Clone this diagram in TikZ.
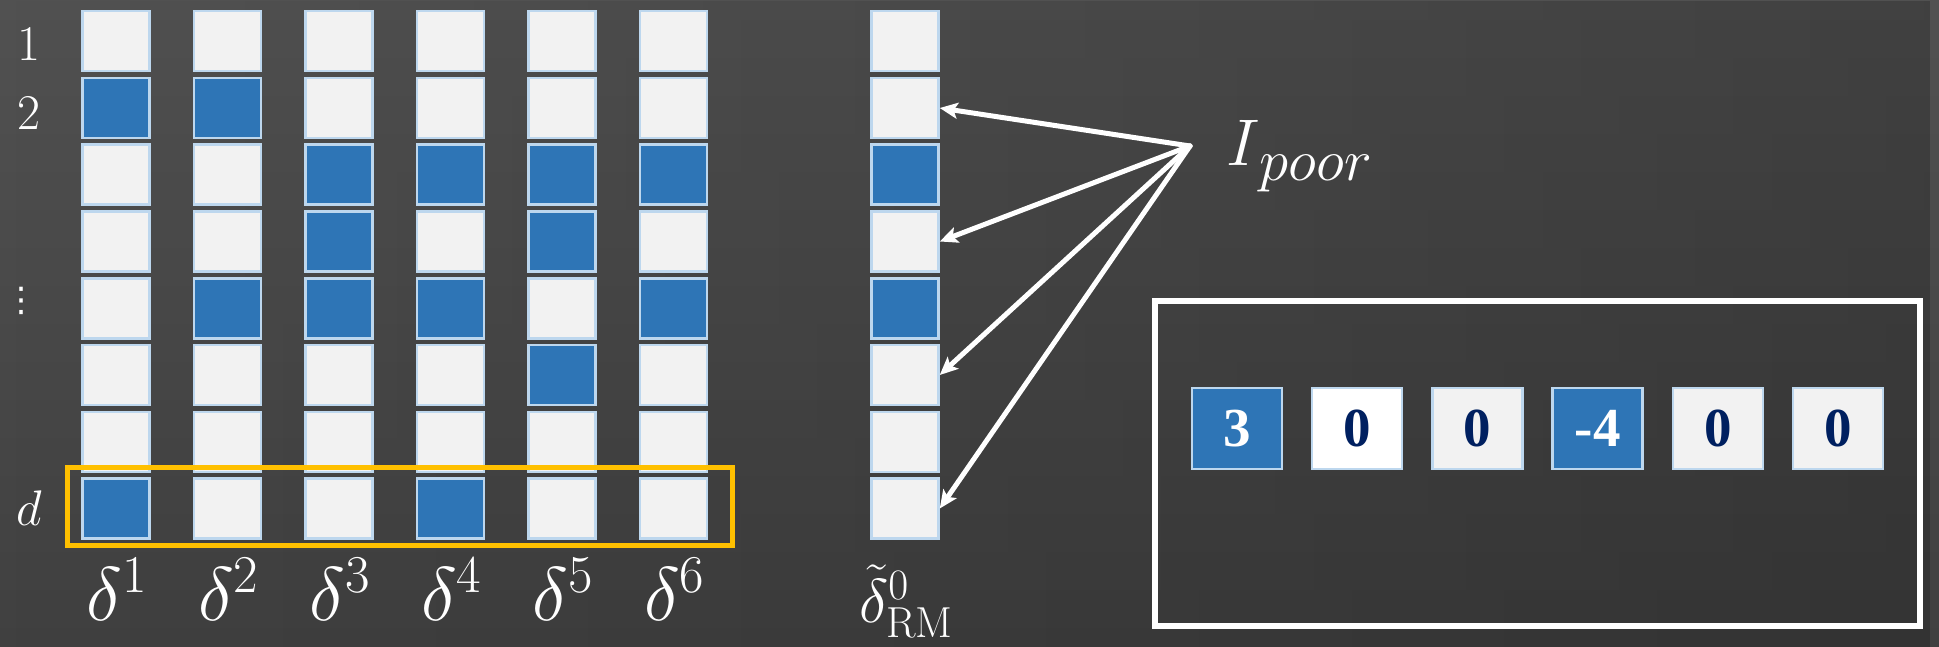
\RequirePackage{fix-cm}
\documentclass[tikz,border=0pt]{standalone}
\usepackage{fontspec}
\newfontfamily\valfont{Liberation Serif}
\newfontfamily\symfont{DejaVu Sans}
\usetikzlibrary{arrows.meta,fadings}

\definecolor{boardtop}{HTML}{515151}
\definecolor{boardbot}{HTML}{404040}
\definecolor{cellblue}{HTML}{2E75B6}
\definecolor{celllight}{HTML}{F2F2F2}
\definecolor{celledge}{HTML}{BDD7EE}
\definecolor{hlorange}{HTML}{FFC000}
\definecolor{navy}{HTML}{002060}

\tikzset{
  cellbase/.style={rectangle, inner sep=0pt, draw=celledge, line width=2.5pt,
                   minimum width=67pt, minimum height=60pt},
  cellw/.style={cellbase, fill=celllight},
  cellb/.style={cellbase, fill=cellblue},
  valbase/.style={rectangle, inner sep=0pt, draw=celledge, line width=2.5pt,
                  minimum width=90pt, minimum height=81pt,
                  font=\valfont\bfseries\fontsize{55}{60}\selectfont},
  valneg/.style={valbase, fill=cellblue, text=white},
  valzero/.style={valbase, fill=celllight, text=navy},
  valwhite/.style={valbase, fill=white, text=navy},
  rowlab/.style={text=white, inner sep=0pt, anchor=base, font=\fontsize{50}{56}\selectfont},
  veclab/.style={text=white, inner sep=0pt, anchor=base, font=\fontsize{76}{84}\selectfont},
  ptr/.style={draw=white, line width=5pt, line cap=round,
              -{Stealth[length=18pt,width=16pt,inset=4pt]}},
}

\begin{document}
\begin{tikzpicture}[x=1pt, y=-1pt]
  % chalkboard background
  \useasboundingbox (0,0) rectangle (1939,647);
  \shade[top color=boardtop, bottom color=boardbot] (0,0) rectangle (1939,647);
  \fill[black, opacity=0.2, path fading=west] (0,0) rectangle (1939,647);

  % six sparse vectors, eight coordinates each
  \foreach \i/\pat in {1/{w,b,w,w,w,w,w,b},
                       2/{w,b,w,w,b,w,w,w},
                       3/{w,w,b,b,b,w,w,w},
                       4/{w,w,b,w,b,w,w,b},
                       5/{w,w,b,b,w,b,w,w},
                       6/{w,w,b,w,b,w,w,w}} {
    \foreach \s [count=\r] in \pat {
      \node[cell\s] (c\i-\r) at ({115.75+111.5*(\i-1)}, {41.25+66.75*(\r-1)}) {};
    }
  }

  % merged vector
  \foreach \s [count=\r] in {w,w,b,w,b,w,w,w} {
    \node[cell\s] (rm-\r) at (905, {41.25+66.75*(\r-1)}) {};
  }

  % row labels
  \node[rowlab] (lab1) at (29,61) {1};
  \node[rowlab] (lab2) at (29,130) {2};
  \node[text=white, inner sep=0pt, font=\symfont\fontsize{34}{40}\selectfont] (labdots) at (22,301) {⋮};
  \node[rowlab] (labd) at (29,525) {$d$};

  % highlighted last coordinate
  \draw[hlorange, line width=5pt] (67.5,467.5) rectangle (732.5,545.5);

  % vector labels
  \foreach \i in {1,...,6} {
    \node[veclab] (d\i) at ({117+111.5*(\i-1)}, 620) {$\delta^{\i}$};
  }
  \node[veclab, font=\fontsize{62}{68}\selectfont] (drm) at (906, 622) {$\tilde{\delta}^{0}_{\mathrm{RM}}$};

  % poorly covered coordinates
  \node[text=white, inner sep=0pt, anchor=base west, font=\fontsize{66}{72}\selectfont] (ipoor) at (1226,166)
    {$I$\raisebox{-15pt}{\fontsize{59}{64}\selectfont$poor$}};
  \coordinate (src) at (1190,146);
  \foreach \r in {2,4,6,8} {
    \draw[ptr] (src) -- (rm-\r.east);
  }

  % example values
  \draw[white, line width=6pt] (1155,301) rectangle (1919.5,626);
  \foreach \k/\v/\sty in {1/3/valneg, 2/0/valwhite, 3/0/valzero, 4/-4/valneg, 5/0/valzero, 6/0/valzero} {
    \node[\sty] (v\k) at ({1237+120.2*(\k-1)}, 428.5) {\v};
  }
\end{tikzpicture}
\end{document}
